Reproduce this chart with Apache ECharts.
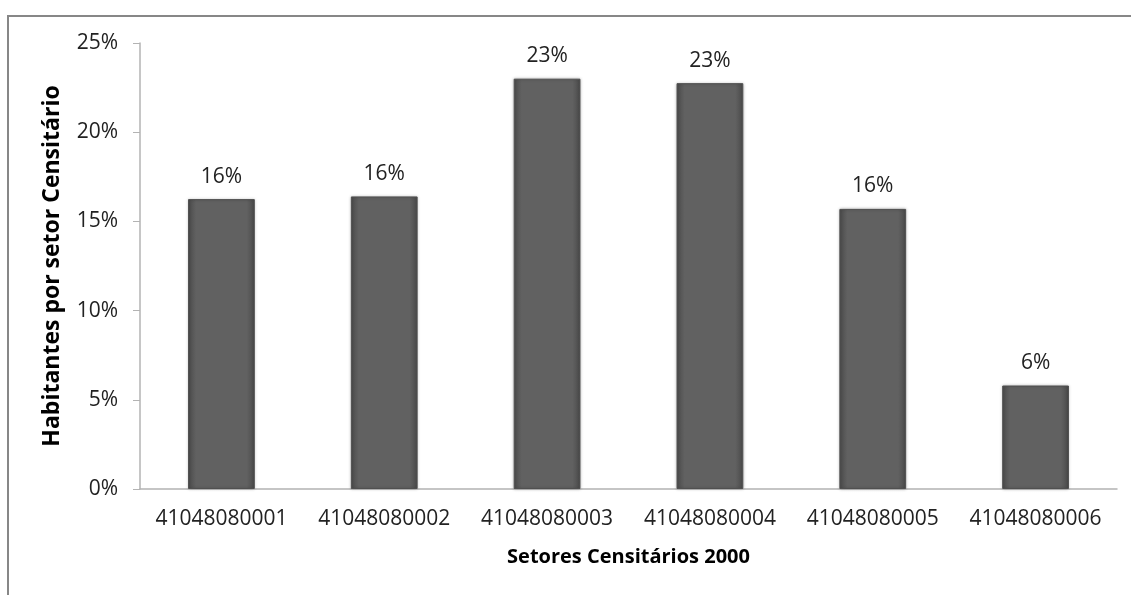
<!DOCTYPE html>
<html>
<head>
    <meta charset="utf-8">
    <title>Habitantes por setor Censitário</title>
    <script src="https://cdn.jsdelivr.net/npm/echarts@6/dist/echarts.min.js"></script>
    <style>
        html, body { margin: 0; padding: 0; background: #fff; }
    </style>
</head>
<body>
<div id="main" style="width: 1131px;height:595px;"></div>

<script type="text/javascript">
    // setores e percentuais
    var setores = ['41048080001', '41048080002', '41048080003', '41048080004', '41048080005', '41048080006'];
    var percentuais = [16.25, 16.4, 23.0, 22.75, 15.7, 5.8];
    var yTicks = [0, 5, 10, 15, 20, 25];

    var fonte = '"Open Sans", "Liberation Sans", sans-serif';

    var myChart = echarts.init(document.getElementById('main'));

    var option = {
        backgroundColor: '#fff',
        animation: false,
        graphic: [{
            type: 'rect',
            shape: { x: 8, y: 16, width: 1300, height: 800 },
            style: { fill: 'none', stroke: '#878787', lineWidth: 2 },
            silent: true
        }],
        grid: { left: 140, right: 14, top: 43, bottom: 106 },
        xAxis: {
            type: 'category',
            data: setores,
            name: 'Setores Censitários 2000',
            nameLocation: 'middle',
            nameGap: 58,
            nameTextStyle: { fontFamily: fonte, fontWeight: 'bold', fontSize: 20, color: '#000' },
            axisLine: { lineStyle: { color: '#b3b3b3', width: 1.5 } },
            axisTick: { show: false },
            axisLabel: { interval: 0, fontFamily: fonte, fontSize: 21, color: '#222', margin: 20 }
        },
        yAxis: {
            type: 'value',
            min: yTicks[0],
            max: yTicks[yTicks.length - 1],
            interval: 5,
            name: 'Habitantes por setor Censitário',
            nameLocation: 'middle',
            nameGap: 76,
            nameTextStyle: { fontFamily: fonte, fontWeight: 'bold', fontSize: 23, color: '#000' },
            axisLine: { show: true, lineStyle: { color: '#b3b3b3', width: 1.5 } },
            axisTick: { show: true, length: 7, lineStyle: { color: '#b3b3b3' } },
            splitLine: { show: false },
            axisLabel: {
                fontFamily: fonte, fontSize: 21, color: '#222', margin: 22,
                formatter: function (v) { return v + '%'; }
            }
        },
        series: [{
            type: 'bar',
            data: percentuais,
            barWidth: '41%',
            itemStyle: {
                color: {
                    type: 'linear', x: 0, y: 0, x2: 1, y2: 0,
                    colorStops: [
                        { offset: 0, color: '#4a4a4a' },
                        { offset: 0.12, color: '#616161' },
                        { offset: 0.88, color: '#616161' },
                        { offset: 1, color: '#4a4a4a' }
                    ]
                },
                borderColor: '#505050',
                borderWidth: 1,
                shadowColor: 'rgba(0,0,0,0.25)',
                shadowBlur: 3
            },
            label: {
                show: true,
                position: 'top',
                distance: 12,
                fontFamily: fonte,
                fontSize: 21,
                color: '#222',
                formatter: function (p) { return Math.round(p.value) + '%'; }
            }
        }]
    };

    myChart.setOption(option);
</script>
</body>
</html>
